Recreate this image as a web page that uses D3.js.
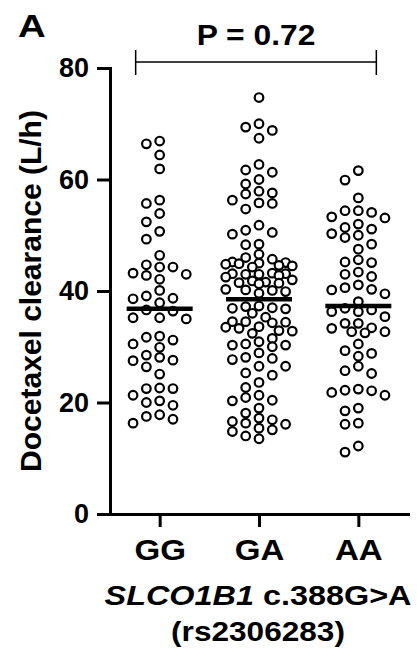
<!DOCTYPE html>
<html>
<head>
<meta charset="utf-8">
<style>
body { margin: 0; background: #fff; }
text { font-family: "Liberation Sans", Arial, sans-serif; font-weight: bold; fill: #000; }
.axis path, .axis line { stroke: #000; stroke-width: 3; }
.dot { fill: #fff; stroke: #000; stroke-width: 2.2; }
</style>
</head>
<body>
<script src="https://d3js.org/d3.v7.min.js"></script>
<script>

// genotype groups
const genotypes = ["GG", "GA", "AA"];

// docetaxel clearance (L/h)
const ggValues = [66.9, 66.4, 64.4, 61.9, 56.3, 55.7, 53.9, 52.4, 50.7, 49.3, 46.4, 44.3, 44.7, 44.3,
  43.0, 42.1, 42.8, 43.2, 39.1, 38.6, 37.9, 38.7, 40.1, 36.6, 36.4, 35.2, 35.0, 35.2, 31.9, 31.2,
  30.5, 31.7, 29.9, 28.5, 27.6, 28.1, 27.5, 26.4, 25.1, 21.3, 22.6, 22.5, 22.5, 20.0, 19.5, 20.3,
  17.5, 16.3, 17.0, 17.8];

const gaValues = [74.7, 69.4, 70.0, 68.8, 67.4, 62.7, 61.7, 61.3, 60.0, 59.2, 57.6, 57.4, 57.9, 55.8,
  55.7, 56.3, 54.7, 51.8, 50.2, 50.9, 50.5, 48.3, 48.4,
  46.6, 46.0, 45.7, 45.1, 44.9, 44.5, 44.8, 44.3, 45.0, 45.2, 44.6, 43.2, 43.1, 43.0, 42.8, 42.5,
  43.0, 43.1, 41.8, 41.5, 42.0, 41.3, 41.4, 41.6, 40.3, 39.6, 40.1, 39.9, 40.2, 37.2, 37.0, 37.3,
  36.8, 36.9, 35.3, 36.0, 34.5, 34.4, 34.3, 34.5, 33.5, 32.9, 32.8, 33.3, 33.6, 32.4,
  31.5, 30.5, 30.3, 30.3, 30.9, 30.0, 28.9, 27.9, 27.7, 28.1, 26.5, 26.5, 25.3, 24.9, 23.6, 22.7,
  21.3, 20.4, 20.3, 20.9, 19.0, 18.1, 16.9, 16.3, 16.1, 16.6, 17.2, 15.4, 14.8, 15.1, 13.5, 14.0];

const aaValues = [61.6, 59.9, 56.7, 53.1, 54.4, 54.1, 54.4, 53.3, 51.4, 50.0, 51.1, 52.0, 49.6, 50.3,
  47.5, 48.4, 45.1, 45.6, 45.2, 43.0, 43.4, 42.6, 41.1, 40.2, 40.6, 39.5, 40.3, 38.1, 36.6, 36.3,
  36.3, 36.9, 35.4, 34.2, 34.2, 33.3, 32.7, 32.5, 32.7, 33.4, 30.5, 28.8, 28.3, 29.3, 26.5, 25.2,
  25.7, 22.4, 22.1, 21.8, 22.2, 21.3, 19.0, 18.5, 16.3, 16.1, 11.1, 12.2];

// group means drawn as horizontal bars
const groupMeans = [36.8, 38.5, 37.3];

const yTicks = [0, 20, 40, 60, 80];
const pLabel = "P = 0.72";

const width = 417, height = 663;

const svg = d3.select("body").append("svg")
    .attr("width", width)
    .attr("height", height);

// scales
const x = d3.scalePoint()
    .domain(genotypes)
    .range([110, 408])
    .padding(0.5);

const y = d3.scaleLinear()
    .domain([0, 80])
    .range([514, 68]);

// y axis
svg.append("g")
    .attr("class", "axis")
    .attr("transform", "translate(110,0)")
    .call(d3.axisLeft(y).tickValues(yTicks).tickSize(13).tickSizeOuter(0).tickPadding(8))
    .call(g => g.selectAll("text").style("font-size", "27px"));

// x axis - labels look a bit wider in the original, so stretch them
svg.append("g")
    .attr("class", "axis")
    .attr("transform", "translate(0,514)")
    .call(d3.axisBottom(x).tickSize(13).tickSizeOuter(0).tickPadding(12))
    .call(g => g.selectAll(".tick text")
        .style("font-size", "29px")
        .attr("transform", "scale(1.14,1)"));

svg.selectAll(".axis text").attr("fill", "#000");
svg.selectAll(".axis .domain").attr("stroke-linecap", "square");

// simple column swarm so points sit side by side like the original
function swarm(values, cx) {
  const step = 13.3, minD = 9.5;
  const offsets = [0, -1, 1, -2, 2, -0.5, 0.5, -1.5, 1.5, -2.5, 2.5];
  const pts = values.map(v => ({v: v, y: y(v)})).sort((a, b) => a.y - b.y);
  const placed = [];
  pts.forEach(p => {
    let best = cx, bestD = -1;
    for (const o of offsets) {
      const px = cx + o * step;
      let dmin = Infinity;
      placed.forEach(q => {
        const d = Math.hypot(q.x - px, q.y - p.y);
        if (d < dmin) dmin = d;
      });
      if (dmin >= minD) { best = px; bestD = dmin; break; }
      if (dmin > bestD) { bestD = dmin; best = px; }
    }
    p.x = best;
    placed.push(p);
  });
  return placed;
}

const groups = [ggValues, gaValues, aaValues];

groups.forEach((vals, i) => {
  const pts = swarm(vals, x(genotypes[i]));
  svg.append("g").selectAll("circle")
      .data(pts)
    .enter().append("circle")
      .attr("class", "dot")
      .attr("cx", d => d.x)
      .attr("cy", d => d.y)
      .attr("r", 4.3);
});

// mean bars
svg.append("g").selectAll("line")
    .data(groupMeans)
  .enter().append("line")
    .attr("x1", (d, i) => x(genotypes[i]) - 33)
    .attr("x2", (d, i) => x(genotypes[i]) + 33)
    .attr("y1", d => y(d))
    .attr("y2", d => y(d))
    .attr("stroke", "#000")
    .attr("stroke-width", 4.5);

// significance bracket
const bx1 = x("GG") - 24, bx2 = x("AA") + 18, by = 62;
const bracket = svg.append("g").attr("stroke", "#000").attr("stroke-width", 1.5);
bracket.append("line").attr("x1", bx1).attr("x2", bx2).attr("y1", by).attr("y2", by);
bracket.append("line").attr("x1", bx1).attr("x2", bx1).attr("y1", by - 12).attr("y2", by + 13);
bracket.append("line").attr("x1", bx2).attr("x2", bx2).attr("y1", by - 12).attr("y2", by + 13);

svg.append("text")
    .attr("transform", "translate(" + ((bx1 + bx2) / 2) + ",45) scale(1.06,1)")
    .attr("text-anchor", "middle")
    .style("font-size", "30px")
    .text(pLabel);

// panel letter
svg.append("text")
    .attr("transform", "translate(18,37) scale(1.2,1)")
    .style("font-size", "32px")
    .text("A");

// y axis title
svg.append("text")
    .attr("transform", "translate(41," + y(40) + ") rotate(-90)")
    .attr("text-anchor", "middle")
    .style("font-size", "30px")
    .text("Docetaxel clearance (L/h)");

// x axis title
const xt = svg.append("text")
    .attr("transform", "translate(258,605) scale(1.2,1)")
    .attr("text-anchor", "middle")
    .style("font-size", "27px");
xt.append("tspan").style("font-style", "italic").text("SLCO1B1");
xt.append("tspan").text(" c.388G>A");

svg.append("text")
    .attr("transform", "translate(258,641) scale(1.17,1)")
    .attr("text-anchor", "middle")
    .style("font-size", "27px")
    .text("(rs2306283)");

</script>
</body>
</html>
